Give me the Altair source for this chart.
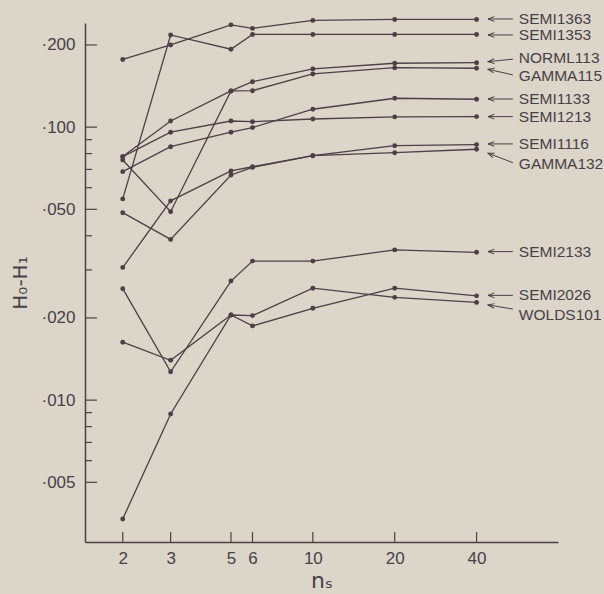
import math
import altair as alt
import pandas as pd

# ---------------- data ----------------
ns = [2, 3, 5, 6, 10, 20, 40]

SEMI1363 = [0.177, 0.200, 0.237, 0.230, 0.246, 0.248, 0.248]
SEMI1353 = [0.0546, 0.2176, 0.193, 0.2185, 0.2185, 0.2185, 0.2185]
NORML113 = [0.0780, 0.1053, 0.1357, 0.1467, 0.1634, 0.1714, 0.1722]
GAMMA115 = [0.0758, 0.0490, 0.1357, 0.1360, 0.1566, 0.1651, 0.1643]
SEMI1133 = [0.0687, 0.0848, 0.0958, 0.0996, 0.1163, 0.1276, 0.1265]
SEMI1213 = [0.0780, 0.0958, 0.1053, 0.1047, 0.1071, 0.1090, 0.1093]
SEMI1116 = [0.0306, 0.0537, 0.0691, 0.0716, 0.0786, 0.0855, 0.0863]
GAMMA132 = [0.0486, 0.0388, 0.0668, 0.0712, 0.0786, 0.0806, 0.0830]
SEMI2133 = [0.0256, 0.0127, 0.0273, 0.0323, 0.0323, 0.0355, 0.0348]
SEMI2026 = [0.0163, 0.0140, 0.0205, 0.0187, 0.0217, 0.0257, 0.0241]
WOLDS101 = [0.00367, 0.0089, 0.0205, 0.0204, 0.0257, 0.0238, 0.0228]

series_names = ["SEMI1363", "SEMI1353", "NORML113", "GAMMA115", "SEMI1133",
                "SEMI1213", "SEMI1116", "GAMMA132", "SEMI2133", "SEMI2026",
                "WOLDS101"]
series_values = [SEMI1363, SEMI1353, NORML113, GAMMA115, SEMI1133,
                 SEMI1213, SEMI1116, GAMMA132, SEMI2133, SEMI2026, WOLDS101]

# labels on the right, with their arrows (data units)
label_y = [0.249, 0.2176, 0.1792, 0.1540, 0.1268, 0.1093, 0.0868, 0.0731,
           0.0350, 0.0242, 0.0205]
arrow_tail_y = [0.249, 0.2176, 0.1774, 0.1553, 0.1268, 0.1093, 0.0868,
                0.0741, 0.0350, 0.0242, 0.02156]
arrow_head_y = [0.249, 0.2176, 0.1737, 0.1630, 0.1268, 0.1093, 0.0868,
                0.0803, 0.0350, 0.0242, 0.02232]
label_x = 57.2
arrow_tail_x = 54.4
arrow_head_x = 44.06

y_major = [0.2, 0.1, 0.05, 0.02, 0.01, 0.005]
y_minor = [0.09, 0.08, 0.07, 0.06, 0.04, 0.03, 0.009, 0.008, 0.007, 0.006]
x_ticks = ns

# ---------------- layout / style ----------------
W, H = 473, 519
x_domain = [1.453, 79.7]
y_domain = [0.003022, 0.2407]
INK = "#4a4046"
BG = "#dbd5ca"

rows = []
for name, vals in zip(series_names, series_values):
    for n, v in zip(ns, vals):
        rows.append({"series": name, "ns": n, "h": v})
df = pd.DataFrame(rows)

px_dec = W / math.log10(x_domain[1] / x_domain[0])
py_dec = H / math.log10(y_domain[1] / y_domain[0])
lab_rows = []
for name, ly, ty, hy in zip(series_names, label_y, arrow_tail_y, arrow_head_y):
    dx = (math.log10(arrow_head_x) - math.log10(arrow_tail_x)) * px_dec
    dy = -(math.log10(hy) - math.log10(ty)) * py_dec
    ang = math.degrees(math.atan2(-dy, -dx)) % 360
    lab_rows.append({"name": name, "ly": ly, "lx": label_x,
                     "tx": arrow_tail_x, "ty": ty,
                     "hx": arrow_head_x, "hy": hy, "ang": ang})
lab = pd.DataFrame(lab_rows)

xs = alt.Scale(type="log", domain=x_domain, nice=False)
ys = alt.Scale(type="log", domain=y_domain, nice=False)

x_axis = alt.Axis(values=x_ticks, format="d", ticks=False, grid=False,
                  domainColor=INK, domainWidth=1.5, labelFont="Liberation Sans",
                  labelFontSize=17, labelColor=INK, labelPadding=8,
                  labelOverlap=False, labelFlush=False,
                  title="nₛ", titleFont="DejaVu Sans", titleFontSize=22,
                  titleFontWeight="normal", titleColor=INK, titlePadding=4)
y_axis = alt.Axis(values=y_major,
                  labelExpr="'·' + substring(format(datum.value, '.3f'), 2)",
                  ticks=False, grid=False, domainColor=INK, domainWidth=1.5,
                  labelFont="Liberation Sans", labelFontSize=17,
                  labelColor=INK, labelPadding=10, labelOverlap=False,
                  labelFlush=False,
                  title="H₀-H₁", titleFont="DejaVu Sans", titleFontSize=20,
                  titleFontWeight="normal", titleColor=INK, titlePadding=10)


def X(field):
    return alt.X(field, scale=xs, axis=x_axis, title="nₛ")


def Y(field):
    return alt.Y(field, scale=ys, axis=y_axis, title="H₀-H₁")


base = alt.Chart(df)
lines = base.mark_line(color=INK, strokeWidth=1.3).encode(
    x=X("ns:Q"), y=Y("h:Q"), detail="series:N", order="ns:Q")
points = base.mark_point(filled=True, color=INK, size=24, opacity=1).encode(
    x=X("ns:Q"), y=Y("h:Q"))

xt = alt.Chart(pd.DataFrame({"ns": x_ticks})).mark_rule(
    color=INK, strokeWidth=1.2).encode(
    x=X("ns:Q"), y=alt.value(H), y2=alt.value(H - 10))
ymaj = alt.Chart(pd.DataFrame({"h": y_major})).mark_rule(
    color=INK, strokeWidth=1.2).encode(
    y=Y("h:Q"), x=alt.value(0), x2=alt.value(12))
ymin = alt.Chart(pd.DataFrame({"h": y_minor})).mark_rule(
    color=INK, strokeWidth=1.2).encode(
    y=Y("h:Q"), x=alt.value(0), x2=alt.value(7))

lb = alt.Chart(lab)
arrows = lb.mark_rule(color=INK, strokeWidth=1).encode(
    x=X("tx:Q"), x2="hx:Q", y=Y("ty:Q"), y2="hy:Q")
heads = lb.mark_point(shape="M2,-0.75L0,0L2,0.75", filled=False, color=INK,
                      strokeWidth=1, size=40, opacity=1).encode(
    x=X("hx:Q"), y=Y("hy:Q"), angle=alt.Angle("ang:Q", scale=None))
labels = lb.mark_text(align="left", baseline="middle", color=INK,
                      font="Liberation Sans", fontSize=15.5).encode(
    x=X("lx:Q"), y=Y("ly:Q"), text="name:N")

chart = alt.layer(lines, points, xt, ymaj, ymin, arrows, heads, labels).properties(
    width=W, height=H,
    padding={"left": 85, "top": 23, "right": 46, "bottom": 52},
    autosize=alt.AutoSizeParams(type="none"),
).configure(background=BG).configure_view(stroke=None)

chart.save("out.html", embed_options={"renderer": "svg", "actions": False})
